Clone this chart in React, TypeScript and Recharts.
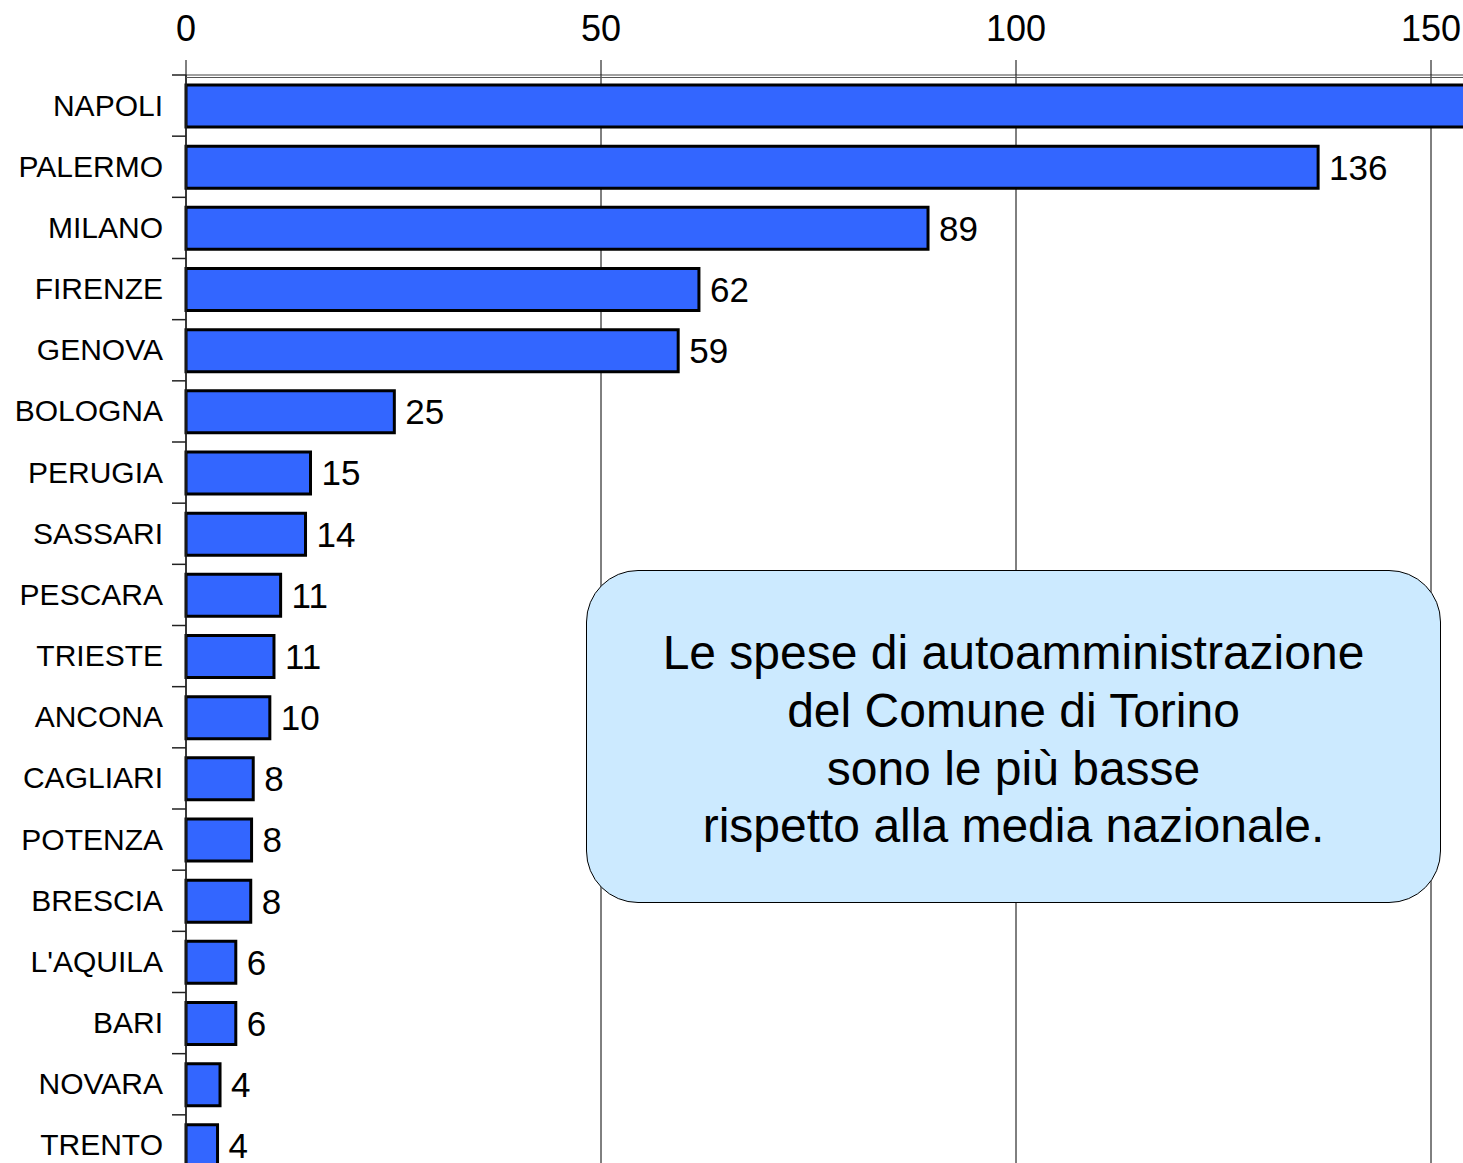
import { Bar, BarChart, CartesianGrid, LabelList, XAxis, YAxis } from "recharts";

const cities = [
  "NAPOLI", "PALERMO", "MILANO", "FIRENZE", "GENOVA", "BOLOGNA", "PERUGIA", "SASSARI", "PESCARA",
  "TRIESTE", "ANCONA", "CAGLIARI", "POTENZA", "BRESCIA", "L'AQUILA", "BARI", "NOVARA", "TRENTO",
];
const spese = [
  175, 136.4, 89.4, 61.8, 59.3, 25.1, 15.0, 14.4, 11.4,
  10.6, 10.1, 8.1, 7.9, 7.8, 6.0, 6.0, 4.1, 3.8,
];
const xTicks = [0, 50, 100, 150, 200];
const noteLines = [
  "Le spese di autoamministrazione",
  "del Comune di Torino",
  "sono le più basse",
  "rispetto alla media nazionale.",
];

const data = cities.map((city, i) => ({ city, value: spese[i] }));

const FONT = "'Liberation Sans', Arial, sans-serif";
const CHART_H = 1176;
const PLOT_TOP = 75;
const ROW_H = (CHART_H - PLOT_TOP) / cities.length;

function CityTick(props: any) {
  const { x, y, payload } = props;
  const by = y - ROW_H / 2;
  return (
    <g>
      <line x1={x + 9} x2={x + 23} y1={by} y2={by} stroke="#222" strokeWidth={1.5} />
      <text x={x} y={y} dy={10} textAnchor="end" fontSize={30} fill="#000" fontFamily={FONT}>
        {payload.value}
      </text>
    </g>
  );
}

export default function App() {
  return (
    <div
      style={{
        position: "absolute",
        left: 0,
        top: 0,
        width: 1463,
        height: 1163,
        overflow: "hidden",
        background: "#fff",
        fontFamily: FONT,
      }}
    >
      <BarChart
        width={1846}
        height={CHART_H}
        data={data}
        layout="vertical"
        margin={{ top: 0, right: 0, bottom: 0, left: 0 }}
        barSize={42}
      >
        <CartesianGrid horizontal={false} stroke="#000" strokeWidth={1} />
        <XAxis
          type="number"
          orientation="top"
          domain={[0, 200]}
          ticks={xTicks}
          height={PLOT_TOP}
          tickSize={15}
          tickMargin={19}
          tickLine={{ stroke: "#000" }}
          axisLine={{ stroke: "#444", strokeWidth: 1.2 }}
          tick={{ fontSize: 36, fill: "#000", fontFamily: FONT }}
        />
        <YAxis
          type="category"
          dataKey="city"
          width={186}
          tickSize={0}
          tickMargin={23}
          tickLine={false}
          interval={0}
          axisLine={{ stroke: "#222", strokeWidth: 1.5 }}
          tick={<CityTick />}
        />
        <Bar
          dataKey="value"
          fill="#3366ff"
          stroke="#000"
          strokeWidth={3}
          isAnimationActive={false}
        >
          <LabelList
            dataKey="value"
            position="right"
            offset={11}
            formatter={(v: any) => Math.round(Number(v))}
            style={{ fontSize: 35, fill: "#000", fontFamily: FONT }}
          />
        </Bar>
      </BarChart>
      <div
        style={{
          position: "absolute",
          left: 186,
          top: 77,
          width: 1277,
          height: 0,
          borderTop: "1.2px solid #555",
        }}
      />
      <div
        style={{
          position: "absolute",
          left: 586,
          top: 570,
          width: 855,
          height: 333,
          boxSizing: "border-box",
          border: "1.5px solid #000",
          borderRadius: 52,
          background: "#cceaff",
          display: "flex",
          flexDirection: "column",
          alignItems: "center",
          justifyContent: "center",
          paddingTop: 6,
          fontSize: 48,
          lineHeight: "57.7px",
          color: "#000",
        }}
      >
        {noteLines.map((l) => (
          <div key={l} style={{ whiteSpace: "nowrap" }}>{l}</div>
        ))}
      </div>
    </div>
  );
}
